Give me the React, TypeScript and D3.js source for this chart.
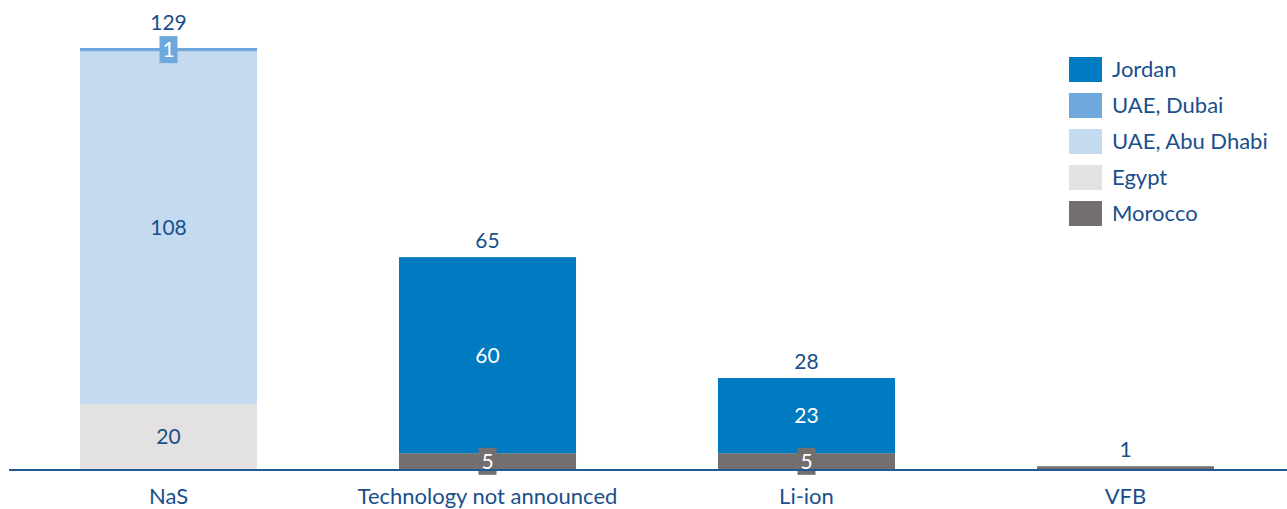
import React from "react";
import * as d3 from "d3";

// Storage capacity by technology, stacked by country
const categories = ["NaS", "Technology not announced", "Li-ion", "VFB"];
const countries = ["Morocco", "Egypt", "UAE, Abu Dhabi", "UAE, Dubai", "Jordan"];
const morocco = [0, 5, 5, 1];
const egypt = [20, 0, 0, 0];
const abuDhabi = [108, 0, 0, 0];
const dubai = [1, 0, 0, 0];
const jordan = [0, 60, 23, 0];
const legendOrder = ["Jordan", "UAE, Dubai", "UAE, Abu Dhabi", "Egypt", "Morocco"];

const colors: Record<string, string> = {
  Jordan: "#007BC2",
  "UAE, Dubai": "#6FA8DC",
  "UAE, Abu Dhabi": "#C4DAEF",
  Egypt: "#E3E1E2",
  Morocco: "#736F6E",
};

const W = 1287;
const H = 509;
const TEXT = "#1A4F8B";
const FONT = "'Lato', 'Open Sans', sans-serif";

export default function App() {
  const seriesValues: Record<string, number[]> = {
    Morocco: morocco,
    Egypt: egypt,
    "UAE, Abu Dhabi": abuDhabi,
    "UAE, Dubai": dubai,
    Jordan: jordan,
  };
  const rows = categories.map((c, i) => {
    const r: Record<string, any> = { category: c };
    countries.forEach((k) => (r[k] = seriesValues[k][i]));
    return r;
  });
  const stacked = d3.stack<Record<string, any>>().keys(countries)(rows);

  const x = d3.scaleBand().domain(categories).range([80, 1214]).paddingInner(0.445).paddingOuter(0);
  const y = d3.scaleLinear().domain([0, 129]).range([469.5, 48]);
  const bw = x.bandwidth();

  const totals = categories.map((_, i) => countries.reduce((s, k) => s + seriesValues[k][i], 0));

  return (
    <svg width={W} height={H} style={{ position: "absolute", left: 0, top: 0 }} fontFamily={FONT}>
      {stacked.map((layer) =>
        layer.map((d, i) => {
          const v = d[1] - d[0];
          if (v <= 0) return null;
          const x0 = x(categories[i])!;
          return (
            <rect
              key={layer.key + i}
              x={x0}
              width={bw}
              y={y(d[1])}
              height={y(d[0]) - y(d[1])}
              fill={colors[layer.key]}
            />
          );
        })
      )}
      {/* segment value labels */}
      {stacked.map((layer) =>
        layer.map((d, i) => {
          const v = d[1] - d[0];
          if (v <= 0) return null;
          if (categories[i] === "VFB") return null;
          const cx = x(categories[i])! + bw / 2;
          const cy = (y(d[0]) + y(d[1])) / 2;
          const small = v < 10;
          const key = layer.key;
          const white = key === "Jordan" || key === "Morocco" || key === "UAE, Dubai";
          return (
            <g key={"l" + key + i}>
              {small && (
                <rect x={cx - 9} y={cy - 13.5} width={18} height={27} fill={colors[key]} />
              )}
              <text
                x={cx}
                y={cy}
                dy="0.36em"
                textAnchor="middle"
                fontSize={21}
                fill={white ? "#FFFFFF" : TEXT}
              >
                {v}
              </text>
            </g>
          );
        })
      )}
      {/* axis line */}
      <line x1={9} x2={W} y1={470} y2={470} stroke="#1F5A96" strokeWidth={2} />
      {/* totals */}
      {categories.map((c, i) => {
        const top = y(totals[i]);
        const hasBox = dubai[i] > 0;
        const yy = hasBox ? top - 11 - 7 : top - 9;
        return (
          <text key={"t" + c} x={x(c)! + bw / 2} y={yy} textAnchor="middle" fontSize={21} fill={TEXT}>
            {totals[i]}
          </text>
        );
      })}
      {/* category labels */}
      {categories.map((c) => (
        <text key={"c" + c} x={x(c)! + bw / 2} y={504} textAnchor="middle" fontSize={22} fill={TEXT}>
          {c}
        </text>
      ))}
      {/* legend */}
      {legendOrder.map((k, i) => (
        <g key={"lg" + k} transform={`translate(1069, ${57 + i * 36})`}>
          <rect width={33} height={25} fill={colors[k]} />
          <text x={43} y={12.5} dy="0.36em" fontSize={22} fill={TEXT}>
            {k}
          </text>
        </g>
      ))}
    </svg>
  );
}
